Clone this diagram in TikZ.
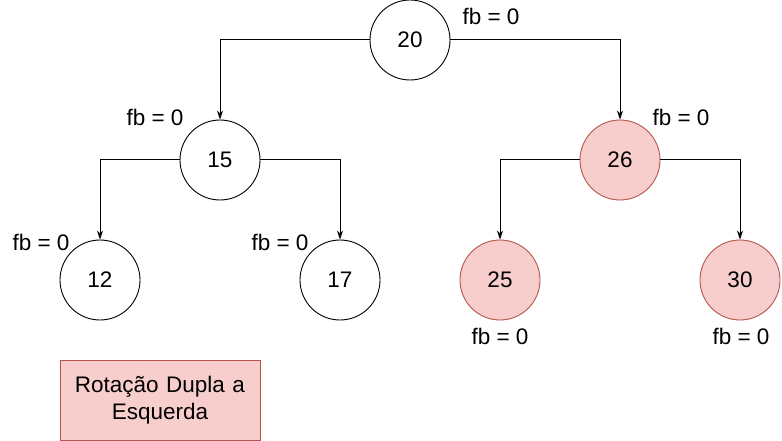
\documentclass[tikz,border=0pt]{standalone}
\usepackage{fontspec}
\setmainfont{Liberation Sans}
\usepackage{tikz}
\usetikzlibrary{arrows.meta,positioning}

\definecolor{rosefill}{HTML}{F8CECC}
\definecolor{rosedraw}{HTML}{B85450}

\begin{document}
\begin{tikzpicture}[x=1pt,y=-1pt,>={Stealth[length=9pt,width=6pt]},
        font=\fontsize{22.5}{27}\selectfont]
            \tikzstyle{treenode}=[circle,draw=black,line width=0.9pt,fill=white,minimum size=80pt,inner sep=0pt]
            \tikzstyle{rotnode}=[treenode,draw=rosedraw,fill=rosefill]
            \tikzstyle{fblabel}=[inner sep=0pt]
            \tikzstyle{link}=[->,line width=1pt]
            \useasboundingbox (0,0) rectangle (782,441);
            \begin{scope}
            % tree
            \node[treenode] (n20) at (410,40) {20};
            \node[treenode] (n15) at (220,160) {15};
            \node[rotnode] (n26) at (620,160) {26};
            \node[treenode] (n12) at (100,280) {12};
            \node[treenode] (n17) at (340,280) {17};
            \node[rotnode] (n25) at (500,280) {25};
            \node[rotnode] (n30) at (740,280) {30};
            % balance factors
            \node[fblabel] (fb20) at (491,16) {fb = 0};
            \node[fblabel] (fb15) at (155,117) {fb = 0};
            \node[fblabel] (fb26) at (681,117) {fb = 0};
            \node[fblabel] (fb12) at (41,242) {fb = 0};
            \node[fblabel] (fb17) at (280,242) {fb = 0};
            \node[fblabel] (fb25) at (500,336) {fb = 0};
            \node[fblabel] (fb30) at (741,336) {fb = 0};
            % edges
            \draw[link] (n20.west) -| (n15.north);
            \draw[link] (n20.east) -| (n26.north);
            \draw[link] (n15.west) -| (n12.north);
            \draw[link] (n15.east) -| (n17.north);
            \draw[link] (n26.west) -| (n25.north);
            \draw[link] (n26.east) -| (n30.north);
            % caption
            \node[rectangle,draw=rosedraw,fill=rosefill,line width=0.9pt,minimum width=200pt,minimum height=80pt,
                text width=190pt,align=center] (caption) at (160,400) {Rotação Dupla a\\Esquerda};
            \end{scope}
        \end{tikzpicture}
\end{document}
